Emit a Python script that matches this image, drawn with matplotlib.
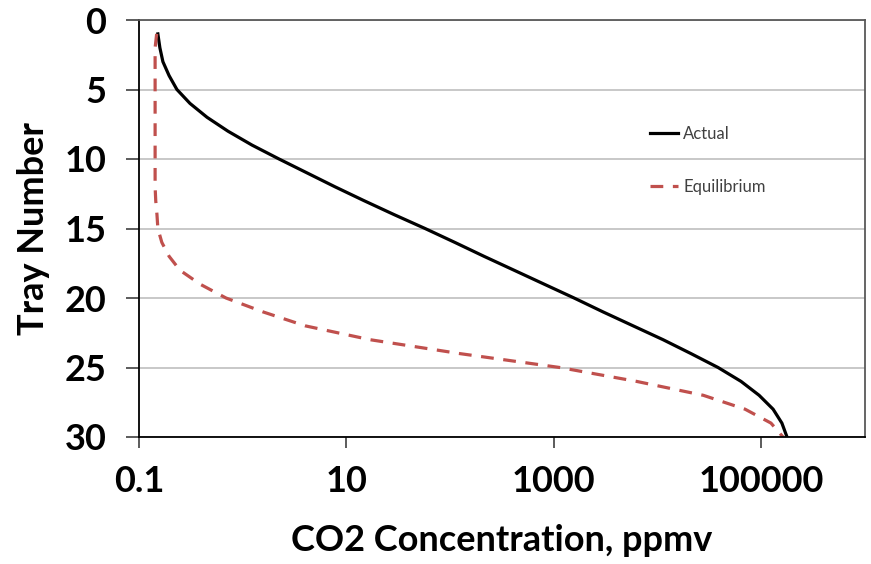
import matplotlib
matplotlib.use("Agg")
import matplotlib.pyplot as plt
from matplotlib.ticker import FixedLocator, FixedFormatter, NullLocator

# ── data ──────────────────────────────────────────────────────────────────
trays = list(range(1, 31))
actual = [0.152, 0.159, 0.170, 0.195, 0.232, 0.310, 0.453, 0.721, 1.23, 2.24,
          4.17, 7.76, 14.8, 28.8, 57.3, 111, 212, 413, 804, 1567,
          2980, 5800, 11300, 21000, 38300, 63800, 95300, 130000, 158000, 177000]
equilibrium = [0.148, 0.143, 0.143, 0.143, 0.143, 0.143, 0.143, 0.143, 0.143, 0.143,
               0.143, 0.143, 0.145, 0.149, 0.152, 0.166, 0.195, 0.248, 0.387, 0.690,
               1.57, 3.99, 16.9, 124, 1140, 6280, 27600, 69800, 124000, 162000]

x_ticks = [0.1, 10, 1000, 100000]
x_tick_labels = ["0.1", "10", "1000", "100000"]
y_ticks = [0, 5, 10, 15, 20, 25, 30]

plt.rcParams['font.family'] = ['Lato', 'DejaVu Sans']

W, H = 871, 564
fig = plt.figure(figsize=(W / 100, H / 100), dpi=100)
ax = fig.add_axes([139 / W, 1 - 437 / H, 726 / W, 417 / H])

ax.plot(actual, trays, color='black', lw=2.3, label='Actual')
ax.plot(equilibrium, trays, color='#C0504D', lw=2.3, dashes=(4, 3), label='Equilibrium')

ax.set_xscale('log')
ax.set_xlim(0.1, 1e6)
ax.set_ylim(30, 0)

ax.xaxis.set_major_locator(FixedLocator(x_ticks))
ax.xaxis.set_major_formatter(FixedFormatter(x_tick_labels))
ax.xaxis.set_minor_locator(NullLocator())
ax.set_yticks(y_ticks)

ax.grid(axis='y', color='#BFBFBF', lw=1.2)
ax.set_axisbelow(True)

for side in ['top', 'right']:
    ax.spines[side].set_color('#595959')
    ax.spines[side].set_linewidth(1.3)
for side in ['left', 'bottom']:
    ax.spines[side].set_color('black')
    ax.spines[side].set_linewidth(1.3)

ax.tick_params(axis='y', direction='out', length=9.5, width=1.2, color='#404040', pad=14)
ax.tick_params(axis='x', direction='out', length=8, width=1.2, color='#404040', pad=12)
for lab in ax.get_xticklabels() + ax.get_yticklabels():
    lab.set_fontsize(26)
    lab.set_fontweight('bold')

ax.set_xlabel("CO2 Concentration, ppmv", fontsize=26, fontweight='bold', labelpad=19)
ax.set_ylabel("Tray Number", fontsize=26, fontweight='bold', labelpad=10)

leg = ax.legend(loc='upper left', bbox_to_anchor=(650 / W, 1 - 126 / H),
                bbox_transform=fig.transFigure, frameon=False, fontsize=12,
                handlelength=1.7, handletextpad=0.3, labelspacing=2.2,
                borderpad=0, borderaxespad=0)
for t in leg.get_texts():
    t.set_color('#404040')

fig.savefig("out.png", dpi=100)
